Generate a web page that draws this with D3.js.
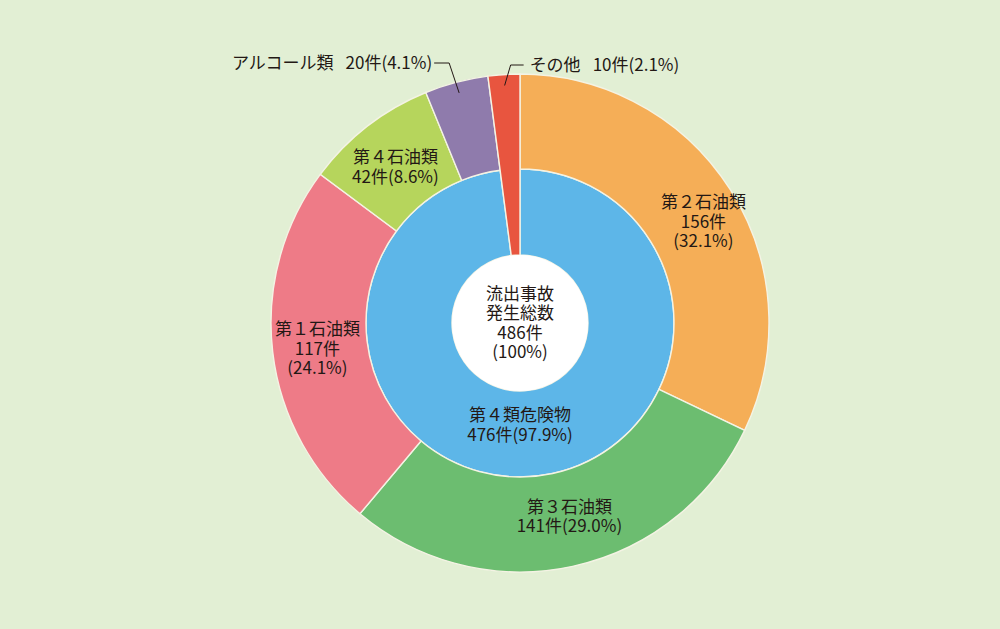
<!DOCTYPE html>
<html><head><meta charset="utf-8">
<script src="https://cdn.jsdelivr.net/npm/d3@7"></script>
<style>
html,body{margin:0;padding:0;background:#e2efd4;}
svg{display:block;}
text{font-family:"Noto Sans CJK JP","Noto Sans",sans-serif;fill:#231815;}
</style></head>
<body>
<script>
// ---- data ----
const outerLabels = ["第２石油類","第３石油類","第１石油類","第４石油類","アルコール類","その他"];
const outerValues = [156,141,117,42,20,10];
const outerPcts   = ["32.1%","29.0%","24.1%","8.6%","4.1%","2.1%"];
const innerLabels = ["第４類危険物","その他"];
const innerValues = [476,10];
const innerPcts   = ["97.9%","2.1%"];
const totalLabel  = ["流出事故","発生総数"];
const totalValue  = 486;
const totalPct    = "100%";

// ---- styles / layout ----
const W = 1000, H = 629;
const cx = 520, cy = 323;
const rHole = 68, rMid = 154, rOuter = 249;
const outerColors = ["#f5ae57","#6cbd70","#ee7b87","#b6d55c","#8f7bac","#e8553f"];
const innerColors = ["#5db6e8","#e8553f"];
const sepColor = "#f4f3e4";
const fs = 17, lh = 19.5;

const svg = d3.select("body").append("svg").attr("width",W).attr("height",H);
svg.append("rect").attr("width",W).attr("height",H).attr("fill","#e2efd4");
const g = svg.append("g").attr("transform",`translate(${cx},${cy})`);

const pie = d3.pie().sort(null).value(d=>d.value);
const outerData = pie(outerLabels.map((l,i)=>({label:l,value:outerValues[i],pct:outerPcts[i],i})));
const innerData = pie(innerLabels.map((l,i)=>({label:l,value:innerValues[i],pct:innerPcts[i],i})));

const lastIdx = outerLabels.length-1;
const outerArc = d3.arc()
  .innerRadius(d=>d.data.i===lastIdx ? rHole : rMid)
  .outerRadius(rOuter);
const innerArc = d3.arc().innerRadius(rHole).outerRadius(rMid);

// inner ring (only 第4類危険物; その他 continues from outer slice)
g.selectAll("path.inner").data(innerData.filter(d=>d.data.i===0)).join("path")
  .attr("class","inner").attr("d",innerArc)
  .attr("fill",d=>innerColors[d.data.i]).attr("stroke",sepColor).attr("stroke-width",1.4);

g.selectAll("path.outer").data(outerData).join("path")
  .attr("class","outer").attr("d",outerArc)
  .attr("fill",d=>outerColors[d.data.i]).attr("stroke",sepColor).attr("stroke-width",1.4);

// white hole
g.append("circle").attr("r",rHole).attr("fill","#ffffff");

function multiline(sel, lines, x, y){
  const t = sel.append("text").attr("text-anchor","middle").attr("font-size",fs);
  const n = lines.length;
  lines.forEach((s,k)=>{
    t.append("tspan").attr("x",x).attr("y",y + (k-(n-1)/2)*lh).attr("dy","0.36em").text(s);
  });
  return t;
}

// in-ring labels
const labelArc = d3.arc().innerRadius(205).outerRadius(205);
const nudges = [[10,8],[6,-7],[1,2],[1,6]];
const lineSplits = [
  d=>[d.data.label, d.data.value+"件", "("+d.data.pct+")"],
  d=>[d.data.label, d.data.value+"件("+d.data.pct+")"],
  d=>[d.data.label, d.data.value+"件", "("+d.data.pct+")"],
  d=>[d.data.label, d.data.value+"件("+d.data.pct+")"]
];
outerData.slice(0,4).forEach((d,k)=>{
  const [x,y] = labelArc.centroid(d);
  multiline(g, lineSplits[k](d), x+nudges[k][0], y+nudges[k][1]);
});

// outside labels with leader lines
const leaderArc = d3.arc().innerRadius(238).outerRadius(238);
const leaderLayout = {4:{elbowDx:-10, y:-260, hx:-15, anchor:"end", gap:-2},
                      5:{elbowDx:6,  y:-258, hx:13,  anchor:"start", gap:6}};
[4,5].forEach(i=>{
  const d = outerData[i], L = leaderLayout[i];
  const [ex,ey] = leaderArc.centroid(d);
  const bx = ex + L.elbowDx, by = L.y;
  const hx = bx + L.hx;
  g.append("path").attr("d",`M${ex},${ey}L${bx},${by}L${hx},${by}`)
    .attr("fill","none").attr("stroke","#231815").attr("stroke-width",1);
  const t = g.append("text").attr("x",hx+L.gap).attr("y",by).attr("dy","0.36em")
    .attr("text-anchor",L.anchor).attr("font-size",fs);
  t.append("tspan").text(d.data.label);
  t.append("tspan").attr("dx",12).text(d.data.value+"件("+d.data.pct+")");
});

// inner ring label
multiline(g, [innerData[0].data.label, innerData[0].data.value+"件("+innerData[0].data.pct+")"], 0, 102);

// center total
multiline(g, [totalLabel[0], totalLabel[1], totalValue+"件", "("+totalPct+")"], 0, 0);
</script>
</body></html>
